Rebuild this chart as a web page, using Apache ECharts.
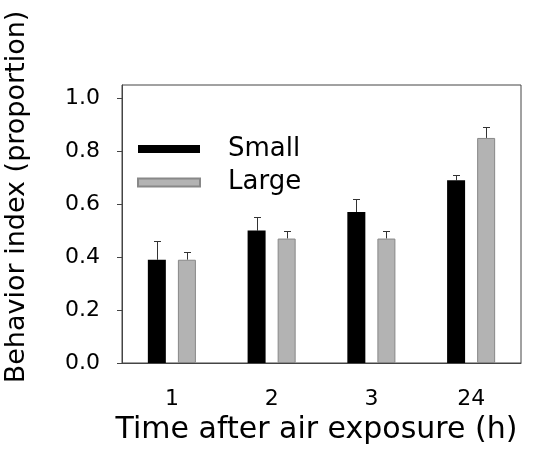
<!DOCTYPE html>
<html>
<head>
<meta charset="utf-8">
<script src="https://cdn.jsdelivr.net/npm/echarts@6/dist/echarts.min.js"></script>
<style>html,body{margin:0;padding:0;background:#fff}#c{width:534px;height:461px}</style>
</head>
<body>
<div id="c"></div>
<script>
var categories = ['1', '2', '3', '24'];
var smallMean = [0.39, 0.50, 0.57, 0.69];
var smallUpper = [0.46, 0.55, 0.62, 0.71];
var largeMean = [0.39, 0.47, 0.47, 0.85];
var largeUpper = [0.42, 0.50, 0.50, 0.89];
var yTicks = [0, 0.2, 0.4, 0.6, 0.8, 1.0];

var FONT = 'DejaVu Sans, Liberation Sans, Arial, sans-serif';
var chart = echarts.init(document.getElementById('c'));

function errSeries(name, upper, mean, offset) {
  return {
    type: 'custom',
    name: name + ' err',
    z: 1,
    silent: true,
    data: upper.map(function (u, i) { return [i, mean[i], u]; }),
    renderItem: function (params, api) {
      var base = api.coord([api.value(0), api.value(1)]);
      var top = api.coord([api.value(0), api.value(2)]);
      var x = Math.round(base[0] + offset) + 0.5;
      var ty = Math.round(top[1]) + 0.5;
      var cap = 3.5;
      return {
        type: 'group',
        children: [
          { type: 'line', shape: { x1: x, y1: base[1], x2: x, y2: ty }, style: { stroke: '#333', lineWidth: 1 } },
          { type: 'line', shape: { x1: x - cap, y1: ty, x2: x + cap, y2: ty }, style: { stroke: '#333', lineWidth: 1 } }
        ]
      };
    }
  };
}

chart.setOption({
  animation: false,
  backgroundColor: '#fff',
  textStyle: { fontFamily: FONT },
  grid: { left: 122, top: 85, right: 13, bottom: 98, outerBoundsMode: 'none', containLabel: false,
    show: true, borderColor: '#444', borderWidth: 1, backgroundColor: 'transparent' },
  legend: {
    orient: 'vertical',
    left: 137,
    top: 136,
    padding: 0,
    itemWidth: 62,
    itemHeight: 8,
    itemGap: 7.5,
    icon: 'rect',
    selectedMode: false,
    data: ['Small', 'Large'],
    textStyle: { fontFamily: FONT, fontSize: 26, color: '#000', lineHeight: 26, padding: [0, 0, 0, 23] }
  },
  xAxis: {
    type: 'category',
    data: categories,
    axisLine: { show: true, lineStyle: { color: '#444', width: 1 } },
    axisTick: { show: false },
    axisLabel: { fontFamily: FONT, fontSize: 22, color: '#000', margin: 25 },
    name: 'Time after air exposure (h)',
    nameLocation: 'middle',
    nameGap: 40,
    nameTextStyle: { fontFamily: FONT, fontSize: 30, color: '#000', padding: [0, 10, 0, 0] }
  },
  yAxis: {
    type: 'value',
    min: 0,
    max: 1.05,
    splitLine: { show: false },
    axisLine: { show: true, lineStyle: { color: '#444', width: 1 } },
    axisTick: { show: true, inside: false, length: 5, lineStyle: { color: '#444' }, customValues: yTicks },
    axisLabel: { fontFamily: FONT, fontSize: 22, color: '#000', margin: 22, customValues: yTicks,
      formatter: function (v) { return v.toFixed(1); } },
    name: 'Behavior index (proportion)',
    nameLocation: 'middle',
    nameGap: 92,
    nameTextStyle: { fontFamily: FONT, fontSize: 27, color: '#000', padding: [0, 0, 0, 54] }
  },
  series: [
    { name: 'Small', type: 'bar', data: smallMean, barWidth: 18, barGap: '67%', z: 2,
      itemStyle: { color: '#000', borderColor: '#000', borderWidth: 0 } },
    { name: 'Large', type: 'bar', data: largeMean, barWidth: 18, barGap: '67%', z: 2,
      itemStyle: { color: '#b3b3b3', borderColor: '#888', borderWidth: 1 } },
    errSeries('Small', smallUpper, smallMean, -15),
    errSeries('Large', largeUpper, largeMean, 15)
  ]
});
</script>
</body>
</html>
